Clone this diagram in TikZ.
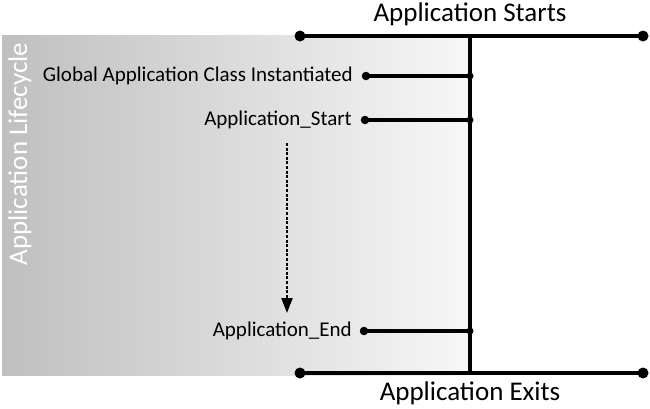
\documentclass[tikz,border=0pt]{standalone}
\usepackage{fontspec}
\setmainfont{Carlito}
\usetikzlibrary{arrows.meta}
\begin{document}
\begin{tikzpicture}[x=1pt,y=-1pt,
  bar/.style={line width=3.2pt},
  enddot/.style={circle,fill=black,inner sep=0pt,minimum size=11pt},
  smalldot/.style={circle,fill=black,inner sep=0pt,minimum size=8.5pt},
  junc/.style={circle,fill=black,inner sep=0pt,minimum size=7pt},
  lbl/.style={font=\fontsize{21}{24}\selectfont,anchor=east,inner sep=0pt},
  title/.style={font=\fontsize{27}{30}\selectfont,inner sep=0pt}]
\useasboundingbox (0,0) rectangle (650,408);
\fill[left color=black!25,right color=white!97!black] (2,35) rectangle (470,375);
\node[rotate=90,text=white,title] (lc) at (20,154) {Application Lifecycle};
% main lines
\node[enddot] (t1) at (300,36) {};
\node[enddot] (t2) at (643,36) {};
\node[enddot] (b1) at (300,373) {};
\node[enddot] (b2) at (643,373) {};
\coordinate (vt) at (470,36);
\coordinate (vb) at (470,373);
\draw[bar] (t1.center) -- (t2.center);
\draw[bar] (b1.center) -- (b2.center);
\draw[bar] (vt) -- (vb);
\node[title,anchor=base] (as) at (470,21) {Application Starts};
\node[title,anchor=base] (ae) at (470,400) {Application Exits};
% branches
\node[smalldot] (d1) at (366,76) {};
\node[smalldot] (d2) at (365,120) {};
\node[smalldot] (d3) at (364,331) {};
\node[junc] (j1) at (470,76) {};
\node[junc] (j2) at (470,120) {};
\node[junc] (j3) at (470,331) {};
\draw[bar] (d1.center) -- (j1.center);
\draw[bar] (d2.center) -- (j2.center);
\draw[bar] (d3.center) -- (j3.center);
\node[lbl] (g) at (353,76) {Global Application Class Instantiated};
\node[lbl] (s) at (352,120) {Application\_Start};
\node[lbl] (e) at (352,331) {Application\_End};
\coordinate (a1) at (287,143);
\coordinate (a2) at (287,313);
\draw[line width=2.3pt,dash pattern=on 3pt off 1.6pt,-{Triangle[width=11pt,length=15pt]}] (a1) -- (a2);
\end{tikzpicture}
\end{document}
